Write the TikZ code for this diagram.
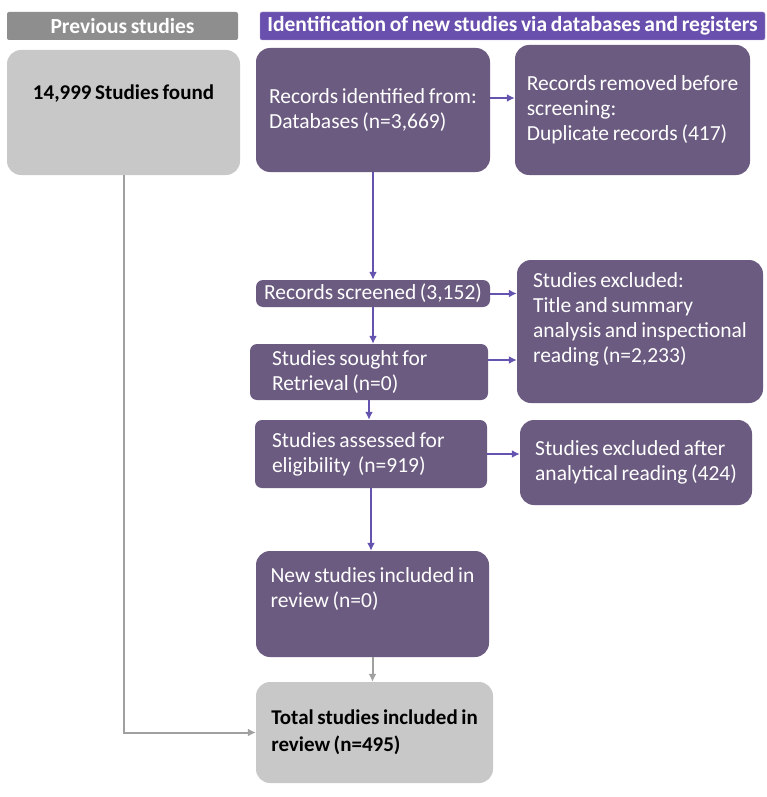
\documentclass[tikz,border=0pt]{standalone}
\usepackage{fontspec}
\setmainfont{Carlito}
\usetikzlibrary{shapes,arrows.meta,positioning}
\definecolor{boxpurple}{HTML}{6B5B80}
\definecolor{headpurple}{HTML}{6A50AE}
\definecolor{linepurple}{HTML}{6553B0}
\definecolor{boxgrey}{HTML}{C8C8C8}
\definecolor{headgrey}{HTML}{8E8E8E}
\definecolor{linegrey}{HTML}{A0A0A0}
\newcommand{\tightspace}{\spaceskip .17em\relax}
\tikzstyle{Head} = [rectangle, rounded corners=2pt, minimum height=28pt, inner sep=0pt, text=white, font={\fontsize{21.5}{24}\selectfont\bfseries\tightspace}]
\tikzstyle{Block} = [rectangle, fill=boxpurple, rounded corners=14pt, text=white, align=left, inner ysep=0pt, font={\fontsize{21.5}{25}\selectfont\tightspace}]
\tikzstyle{Slim} = [Block, rounded corners=7pt]
\tikzstyle{Grey} = [rectangle, fill=boxgrey, rounded corners=14pt, align=left, inner ysep=0pt, font={\fontsize{21}{27}\selectfont\bfseries\tightspace}]
\tikzstyle{Flow} = [draw=linepurple, line width=2pt, -{Latex[length=8pt,width=8pt]}]
\tikzstyle{GreyFlow} = [Flow, draw=linegrey]

\begin{document}
\begin{tikzpicture}[x=1pt, y=-1pt]
    \useasboundingbox (0,0) rectangle (767,797);
    % headers
    \node[Head, fill=headgrey, minimum width=231pt]   (prevhead) at (122.5,26) {Previous studies};
    \node[Head, fill=headpurple, draw=headpurple!55!white, minimum width=505pt] (newhead) at (512.5,26) {Identification of new studies via databases and registers};
    % boxes
    \node[Grey, minimum width=233pt, text height=50pt, text depth=75pt] (found) at (123.5,112.5) {14,999 Studies found};
    \node[Block, minimum width=234pt, minimum height=124pt] (ident)   at (373,110)   {Records identified from:\\ Databases (n=3,669)};
    \node[Block, minimum width=235pt, minimum height=130pt] (removed) at (632.5,110) {Records removed before\\ screening:\\ Duplicate records (417)};
    \node[Slim, minimum width=234pt, minimum height=27pt]   (screened) at (373,293.5) {Records screened (3,152)};
    \node[Block, minimum width=246pt, text height=102pt, text depth=41pt] (excl1) at (640,331.5) {Studies excluded:\\ Title and summary\\ analysis and inspectional\\ reading (n=2,233)};
    \node[Slim, align=flush left, text width=194pt, inner xsep=22pt, minimum height=56pt] (sought)   at (369,372) {Studies sought for\\ Retrieval (n=0)};
    \node[Slim, align=flush left, text width=198pt, inner xsep=17pt, minimum height=68pt] (assessed) at (371,454) {Studies assessed for\\ eligibility\ \ (n=919)};
    \node[Block, minimum width=232pt, minimum height=85pt]  (excl2)    at (636,462.5) {Studies excluded after\\ analytical reading (424)};
    \node[Block, minimum width=233pt, text height=56pt, text depth=50pt] (newinc) at (372.5,604) {New studies included in\\ review (n=0)};
    \node[Grey, minimum width=237pt, minimum height=101pt]  (total)    at (374.5,732.5) {Total studies included in\\ review (n=495)};
    % connectors
    \draw[Flow] ([yshift=12pt]ident.east) -- ([yshift=12pt]removed.west);
    \draw[Flow] (ident.south) -- (ident.south |- screened.north);
    \draw[Flow] (screened.east) -- (screened.east -| excl1.west);
    \draw[Flow] (screened.south) -- (screened.south |- sought.north);
    \draw[Flow] ([yshift=12pt]sought.east) coordinate (soughtout) -- (soughtout -| excl1.west);
    \draw[Flow] (sought.south) -- (sought.south |- assessed.north);
    \draw[Flow] (assessed.east) -- (assessed.east -| excl2.west);
    \draw[Flow] (assessed.south) -- (assessed.south |- newinc.north);
    \draw[GreyFlow] (newinc.south) -- (newinc.south |- total.north);
    \draw[GreyFlow] (found.south) |- (total.west);
\end{tikzpicture}
\end{document}
